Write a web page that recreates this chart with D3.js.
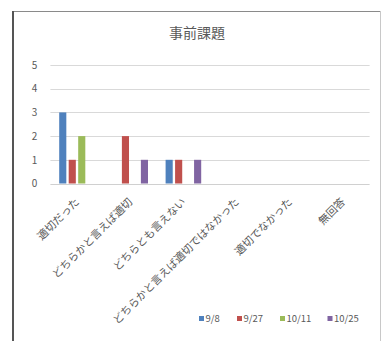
<!DOCTYPE html>
<html>
<head>
<meta charset="utf-8">
<script src="https://cdn.jsdelivr.net/npm/d3@7/dist/d3.min.js"></script>
<style>
  html, body { margin: 0; padding: 0; background: #fff; }
  svg { display: block; font-family: "Noto Sans CJK JP", "Noto Sans", sans-serif; }
</style>
</head>
<body>
<svg id="chart" width="382" height="341"></svg>
<script>
// Survey answers for the pre-assignment, counted per session date
const title = "事前課題";
const categories = ["適切だった", "どちらかと言えば適切", "どちらとも言えない",
  "どちらかと言えば適切ではなかった", "適切でなかった", "無回答"];
const seriesNames = ["9/8", "9/27", "10/11", "10/25"];
const s98   = [3, 0, 1, 0, 0, 0];
const s927  = [1, 2, 1, 0, 0, 0];
const s1011 = [2, 0, 0, 0, 0, 0];
const s1025 = [0, 1, 1, 0, 0, 0];
const yTicks = [0, 1, 2, 3, 4, 5];
const colors = ["#4F81BD", "#C0504D", "#9BBB59", "#8064A2"];

const seriesValues = [s98, s927, s1011, s1025];
const svg = d3.select("#chart");
const textColor = "#595959";

// frame around the chart area
svg.append("line").attr("x1", 12).attr("x2", 381).attr("y1", 11.5).attr("y2", 11.5)
  .attr("stroke", "#8a8a8a").attr("stroke-width", 1);
svg.append("line").attr("x1", 13).attr("x2", 13).attr("y1", 11).attr("y2", 341)
  .attr("stroke", "#555").attr("stroke-width", 2);
svg.append("line").attr("x1", 380.5).attr("x2", 380.5).attr("y1", 11).attr("y2", 341)
  .attr("stroke", "#c8c8c8").attr("stroke-width", 1);

// title
svg.append("text").attr("x", 197).attr("y", 38).attr("text-anchor", "middle")
  .attr("font-size", 14).attr("fill", textColor).text(title);

const plot = { left: 50.4, right: 369.6, top: 65, bottom: 183.5 };

const y = d3.scaleLinear().domain([0, 5]).range([plot.bottom, plot.top]);
const x0 = d3.scaleBand().domain(categories).range([plot.left, plot.right]).padding(0);
const x1 = d3.scaleBand().domain(seriesNames)
  .range([8.8, x0.bandwidth() - 8.8]).paddingInner(0.25).paddingOuter(0);

// gridlines
svg.append("g").selectAll("line").data(yTicks.filter(d => d > 0)).join("line")
  .attr("x1", plot.left).attr("x2", plot.right)
  .attr("y1", d => Math.round(y(d)) + 0.5).attr("y2", d => Math.round(y(d)) + 0.5)
  .attr("stroke", "#d9d9d9").attr("stroke-width", 1);

// y tick labels
const yAxis = d3.axisLeft(y).tickValues(yTicks).tickSize(0).tickPadding(0).tickFormat(d3.format("d"));
const gy = svg.append("g").attr("transform", `translate(${plot.left - 13},0)`).call(yAxis);
gy.select(".domain").remove();
gy.selectAll("text").attr("font-size", 10).attr("fill", textColor)
  .attr("font-family", "'Noto Sans CJK JP', sans-serif");

// bars
const groups = svg.append("g").selectAll("g").data(categories).join("g")
  .attr("transform", c => `translate(${x0(c)},0)`);
groups.selectAll("rect")
  .data((c, i) => seriesNames.map((s, j) => ({ s, j, v: seriesValues[j][i] })))
  .join("rect")
  .attr("x", d => x1(d.s))
  .attr("width", x1.bandwidth())
  .attr("y", d => y(d.v))
  .attr("height", d => y(0) - y(d.v))
  .attr("fill", d => colors[d.j]);

// category axis
const xAxis = d3.axisBottom(x0).tickSize(0).tickPadding(0);
const gx = svg.append("g").attr("transform", `translate(0,${Math.round(y(0)) + 0.5})`).call(xAxis);
gx.select(".domain").attr("stroke", "#d0d0d0").attr("d", `M${plot.left},0H${plot.right}`);
gx.selectAll(".tick text")
  .attr("font-size", 10.8).attr("fill", textColor)
  .attr("font-family", "'Noto Sans CJK JP', sans-serif")
  .attr("text-anchor", "end")
  .attr("dy", null).attr("y", 0)
  .attr("transform", "translate(3,18) rotate(-45)");

// legend
const legendX = [199, 237, 280, 327.5];
const legend = svg.append("g").selectAll("g").data(seriesNames).join("g")
  .attr("transform", (d, i) => `translate(${legendX[i]},319)`);
legend.append("rect").attr("x", 0).attr("y", -3).attr("width", 5).attr("height", 5)
  .attr("fill", (d, i) => colors[i]);
legend.append("text").attr("x", 6.5).attr("y", 0).attr("dy", "0.35em")
  .attr("font-size", 9.5).attr("fill", textColor).text(d => d);
</script>
</body>
</html>
